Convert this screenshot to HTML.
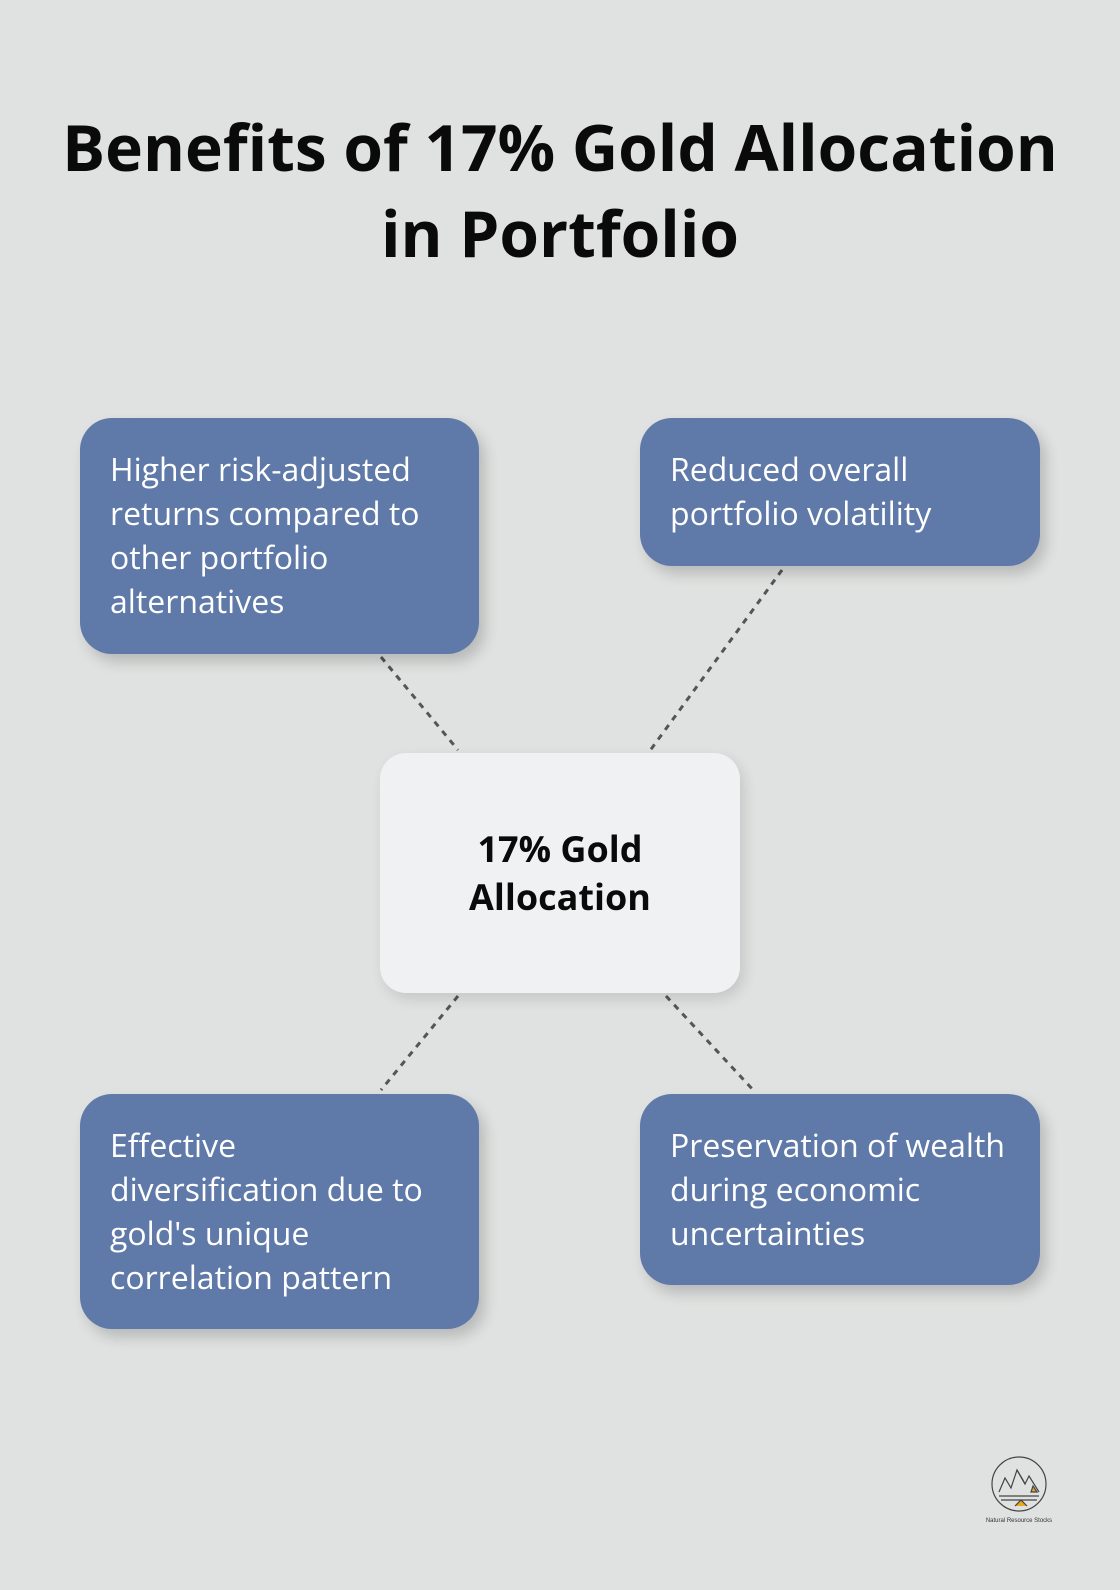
<!DOCTYPE html>
<html><head><meta charset="utf-8"><style>
html,body{margin:0;padding:0}
body{width:1120px;height:1590px;background:#e0e2e1;position:relative;overflow:hidden;font-family:"Open Sans","Liberation Sans",sans-serif}
.t{position:absolute;left:0;width:1120px;text-align:center;font-weight:bold;font-size:64px;color:#0a0a0a;line-height:86px;white-space:nowrap}
.b{position:absolute;background:#5f79a9;border-radius:32px;color:#fff;font-size:32px;line-height:44px;box-sizing:border-box;padding:30px 10px 0 30px;box-shadow:6px 8px 14px rgba(0,0,0,0.18);white-space:nowrap}
.c{position:absolute;left:380px;top:753px;width:360px;height:240px;background:#eff1f3;border-radius:26px;box-shadow:4px 6px 14px rgba(0,0,0,0.12);display:flex;align-items:center;justify-content:center;text-align:center;font-weight:bold;font-size:36px;line-height:48px;color:#0a0a0a}
svg{position:absolute;left:0;top:0}
</style></head><body>
<div class="t" style="top:104px">Benefits of 17% Gold Allocation</div>
<div class="t" style="top:190px">in Portfolio</div>
<svg width="1120" height="1590"><g stroke="#555" stroke-width="3" stroke-dasharray="6,6" fill="none">
<line x1="381" y1="657" x2="458" y2="750"/>
<line x1="782" y1="570" x2="649" y2="752"/>
<line x1="458" y1="996" x2="381" y2="1090"/>
<line x1="666" y1="996" x2="755" y2="1092"/></g>
<g transform="translate(1019,1484)" stroke="#444" stroke-width="1.2" fill="none">
<circle r="27"/>
<path d="M-20 8 L-14 -6 L-8 4 L-2 -14 L6 0 L10 -8 L20 8" />
<path d="M-2 -14 L4 -4 L6 0 Z" fill="#e8a817"/>
<path d="M14 2 L18 8 L12 8Z" fill="#e8a817"/>
<line x1="-20" y1="12" x2="20" y2="12"/><line x1="-18" y1="16" x2="18" y2="16"/>
<path d="M-4 22 L2 16 L8 22" fill="#e8a817"/>
</g>
<text x="1019" y="1522" font-size="6" fill="#333" text-anchor="middle" font-family="Liberation Sans">Natural Resource Stocks</text>
</svg>
<div class="b" style="left:80px;top:418px;width:399px;height:236px">Higher risk-adjusted<br>returns compared to<br>other portfolio<br>alternatives</div>
<div class="b" style="left:640px;top:418px;width:400px;height:148px">Reduced overall<br>portfolio volatility</div>
<div class="b" style="left:80px;top:1094px;width:399px;height:235px">Effective<br>diversification due to<br>gold's unique<br>correlation pattern</div>
<div class="b" style="left:640px;top:1094px;width:400px;height:191px">Preservation of wealth<br>during economic<br>uncertainties</div>
<div class="c">17% Gold<br>Allocation</div>
</body></html>
